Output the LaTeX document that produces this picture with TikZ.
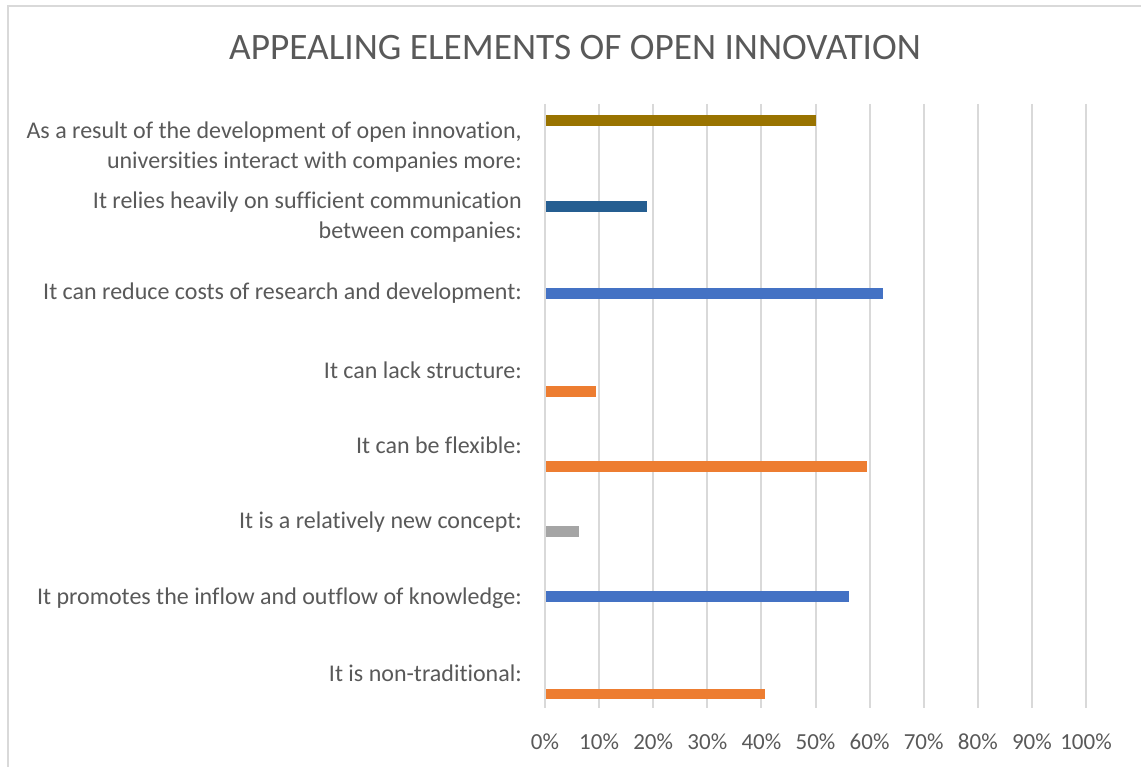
\documentclass[tikz,border=0pt]{standalone}
\usepackage{fontspec}
\setmainfont{Carlito}[Ligatures=NoCommon]
\usepackage{xcolor}
\usepackage{tikz}
\definecolor{txtgray}{RGB}{89,89,89}
\definecolor{gridgray}{RGB}{217,217,217}
\definecolor{gold}{RGB}{153,115,0}
\definecolor{navy}{RGB}{37,94,145}
\definecolor{steel}{RGB}{68,114,196}
\definecolor{tangerine}{RGB}{237,125,49}
\definecolor{silver}{RGB}{165,165,165}
\tikzstyle{cat}=[anchor=east,align=right,text=txtgray,inner sep=0pt,font=\fontsize{24}{30}\selectfont]
\tikzstyle{tick}=[text=txtgray,inner sep=0pt,font=\fontsize{23}{28}\selectfont]
\tikzstyle{grid line}=[gridgray,line width=2pt]

\begin{document}
\begin{tikzpicture}[x=1pt,y=-1pt]
\useasboundingbox (0,0) rectangle (1141,767);
\draw[gridgray, line width=1.5pt] (8,767) -- (8,6) -- (1141,6);
\node[text=txtgray, font=\fontsize{37.3}{42}\selectfont] (title) at (575,48) {APPEALING ELEMENTS OF OPEN INNOVATION};
% grid
\draw[grid line] (545,104) -- (545,708);
\draw[grid line] (599.1,104) -- (599.1,708);
\draw[grid line] (653.2,104) -- (653.2,708);
\draw[grid line] (707.3,104) -- (707.3,708);
\draw[grid line] (761.4,104) -- (761.4,708);
\draw[grid line] (815.5,104) -- (815.5,708);
\draw[grid line] (869.6,104) -- (869.6,708);
\draw[grid line] (923.7,104) -- (923.7,708);
\draw[grid line] (977.8,104) -- (977.8,708);
\draw[grid line] (1031.9,104) -- (1031.9,708);
\draw[grid line] (1086,104) -- (1086,708);
\node[tick] (t0) at (545,742) {0\%};
\node[tick] (t10) at (599.1,742) {10\%};
\node[tick] (t20) at (653.2,742) {20\%};
\node[tick] (t30) at (707.3,742) {30\%};
\node[tick] (t40) at (761.4,742) {40\%};
\node[tick] (t50) at (815.5,742) {50\%};
\node[tick] (t60) at (869.6,742) {60\%};
\node[tick] (t70) at (923.7,742) {70\%};
\node[tick] (t80) at (977.8,742) {80\%};
\node[tick] (t90) at (1031.9,742) {90\%};
\node[tick] (t100) at (1086,742) {100\%};
% categories
\node[cat] (univ) at (522,147) {As a result of the development of open innovation,\\universities interact with companies more:};
\node[cat] (comm) at (522,217) {It relies heavily on sufficient communication\\between companies:};
\node[cat] (cost) at (522,293) {It can reduce costs of research and development:};
\node[cat] (struct) at (522,370) {It can lack structure:};
\node[cat] (flex) at (522,445) {It can be flexible:};
\node[cat] (new) at (522,522) {It is a relatively new concept:};
\node[cat] (flow) at (522,598) {It promotes the inflow and outflow of knowledge:};
\node[cat] (nontrad) at (522,673) {It is non-traditional:};
% bars
\fill[gold] (546,115) rectangle (816,126);
\fill[navy] (546,201) rectangle (647,212.5);
\fill[steel] (546,288) rectangle (883,299);
\fill[tangerine] (546,386) rectangle (596,396.5);
\fill[tangerine] (546,461) rectangle (866.5,472);
\fill[silver] (546,526) rectangle (579,537);
\fill[steel] (546,590.5) rectangle (849,601.5);
\fill[tangerine] (546,688.5) rectangle (765,699);
\end{tikzpicture}
\end{document}
